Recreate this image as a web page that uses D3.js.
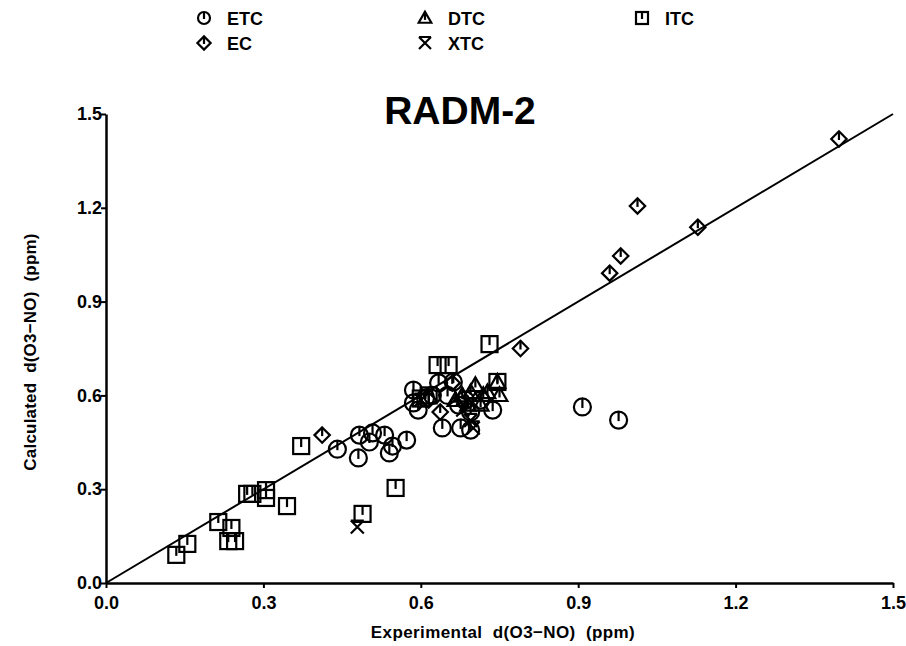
<!DOCTYPE html>
<html>
<head>
<meta charset="utf-8">
<script src="https://cdn.jsdelivr.net/npm/d3@7"></script>
<style>
  body { margin: 0; background: #fff; }
  text { font-family: "Liberation Sans", Arial, sans-serif; font-weight: bold; fill: #000; white-space: pre; }
</style>
</head>
<body>
<svg id="chart" width="906" height="646"></svg>
<script>
// valores (ppm)
const tickValues = [0.0, 0.3, 0.6, 0.9, 1.2, 1.5];

const etcPts = [
  [0.441,0.428],[0.483,0.473],[0.508,0.480],[0.502,0.451],[0.531,0.473],[0.546,0.438],
  [0.540,0.416],[0.573,0.457],[0.481,0.400],[0.908,0.563],[0.977,0.521],
  [0.586,0.617],[0.586,0.576],[0.595,0.553],[0.609,0.592],[0.622,0.600],[0.634,0.640],
  [0.662,0.643],[0.641,0.496],[0.676,0.496],[0.695,0.489],[0.737,0.553],[0.651,0.600],
  [0.685,0.585],[0.695,0.547],[0.672,0.569],[0.714,0.585]
];
const dtcPts = [
  [0.704,0.633],[0.727,0.610],[0.746,0.643],[0.750,0.601],[0.679,0.600],[0.690,0.570],
  [0.714,0.570],[0.666,0.585],[0.719,0.601],[0.695,0.610]
];
const itcPts = [
  [0.134,0.090],[0.155,0.125],[0.214,0.195],[0.239,0.176],[0.233,0.134],[0.246,0.134],
  [0.269,0.285],[0.279,0.285],[0.305,0.297],[0.305,0.272],[0.345,0.246],[0.372,0.438],
  [0.552,0.304],[0.489,0.221],[0.632,0.697],[0.653,0.697],[0.731,0.764],[0.746,0.643],
  [0.600,0.590],[0.615,0.600]
];
const ecPts = [
  [1.397,1.420],[1.013,1.206],[1.128,1.138],[0.981,1.046],[0.960,0.991],[0.790,0.750],
  [0.412,0.473],[0.637,0.547],[0.660,0.640],[0.615,0.585]
];
const xtcPts = [
  [0.479,0.179],[0.700,0.496],[0.695,0.520],[0.600,0.585],[0.680,0.553]
];

const legendItems = [
  {name: "ETC", sym: "circle"}, {name: "DTC", sym: "triangle"}, {name: "ITC", sym: "square"},
  {name: "EC", sym: "diamond"}, {name: "XTC", sym: "cross"}
];

const svg = d3.select("#chart");

const x = d3.scaleLinear().domain([0, 1.5]).range([106, 893]);
const y = d3.scaleLinear().domain([0, 1.5]).range([583, 114]);

// simbolos: todos llevan una rayita desde arriba hasta el centro
function drawSymbol(g, sym, s) {
  const sw = 2.2;
  if (sym === "circle") {
    g.append("circle").attr("r", s).attr("fill", "none").attr("stroke", "#000").attr("stroke-width", sw);
    g.append("line").attr("x1", 0).attr("y1", -s).attr("x2", 0).attr("y2", 1).attr("stroke", "#000").attr("stroke-width", sw);
  } else if (sym === "square") {
    g.append("rect").attr("x", -s).attr("y", -s).attr("width", 2 * s).attr("height", 2 * s)
      .attr("fill", "none").attr("stroke", "#000").attr("stroke-width", sw);
    g.append("line").attr("x1", 0).attr("y1", -s).attr("x2", 0).attr("y2", 1).attr("stroke", "#000").attr("stroke-width", sw);
  } else if (sym === "diamond") {
    const d = s * 1.1;
    g.append("path").attr("d", `M0,${-d}L${d},0L0,${d}L${-d},0Z`)
      .attr("fill", "none").attr("stroke", "#000").attr("stroke-width", sw);
    g.append("line").attr("x1", 0).attr("y1", -d).attr("x2", 0).attr("y2", 1).attr("stroke", "#000").attr("stroke-width", sw);
  } else if (sym === "triangle") {
    const h = s * 1.05;
    g.append("path").attr("d", `M0,${-h}L${h},${h * 0.75}L${-h},${h * 0.75}Z`)
      .attr("fill", "none").attr("stroke", "#000").attr("stroke-width", sw);
    g.append("line").attr("x1", 0).attr("y1", -h).attr("x2", 0).attr("y2", h * 0.3).attr("stroke", "#000").attr("stroke-width", sw);
  } else if (sym === "cross") {
    g.append("path").attr("d", `M${-s},${-s}L${s},${s}M${s},${-s}L${-s},${s}M${-s},${-s}L${s},${-s}`)
      .attr("fill", "none").attr("stroke", "#000").attr("stroke-width", sw);
  }
}

// ejes
const xAxis = svg.append("g").attr("transform", "translate(0,583)")
  .call(d3.axisBottom(x).tickValues(tickValues).tickFormat(d3.format(".1f")).tickSize(5).tickSizeOuter(0));
const yAxis = svg.append("g").attr("transform", "translate(106,0)")
  .call(d3.axisLeft(y).tickValues(tickValues).tickFormat(d3.format(".1f")).tickSize(5).tickSizeOuter(0));

[xAxis, yAxis].forEach(a => {
  a.attr("font-size", 18).attr("font-family", "'Liberation Sans', Arial, sans-serif");
  a.select(".domain").attr("stroke", "#000").attr("stroke-width", 2.5);
  a.selectAll(".tick line").attr("stroke", "#000").attr("stroke-width", 2);
  a.selectAll(".tick text").style("font-size", "18px").attr("fill", "#000");
});
xAxis.selectAll(".tick text").attr("dy", "1.0em");
yAxis.selectAll(".tick text").attr("x", -4);

// linea 1:1
svg.append("line")
  .attr("x1", x(0)).attr("y1", y(0)).attr("x2", x(1.5)).attr("y2", y(1.5))
  .attr("stroke", "#000").attr("stroke-width", 2);

// puntos
const series = [
  {pts: etcPts, sym: "circle", s: 8.5},
  {pts: itcPts, sym: "square", s: 8},
  {pts: ecPts, sym: "diamond", s: 7},
  {pts: dtcPts, sym: "triangle", s: 7.5},
  {pts: xtcPts, sym: "cross", s: 6.5}
];
series.forEach(ser => {
  svg.append("g").selectAll("g").data(ser.pts).join("g")
    .attr("transform", d => `translate(${x(d[0])},${y(d[1])})`)
    .each(function () { drawSymbol(d3.select(this), ser.sym, ser.s); });
});

// titulo y etiquetas
svg.append("text").attr("x", 460).attr("y", 124).attr("text-anchor", "middle")
  .style("font-size", "39px").text("RADM-2");

svg.append("text").attr("x", 503).attr("y", 638).attr("text-anchor", "middle")
  .style("font-size", "17px").style("letter-spacing", "0.4px")
  .text("Experimental  d(O3\u2212NO)  (ppm)");

svg.append("text").attr("transform", "translate(36,352) rotate(-90)").attr("text-anchor", "middle")
  .style("font-size", "17px").style("letter-spacing", "0.2px")
  .text("Calculated  d(O3\u2212NO)  (ppm)");

// leyenda
const legX = [204, 425, 642];
const legY = [18, 43];
const leg = svg.append("g").selectAll("g").data(legendItems).join("g")
  .attr("transform", (d, i) => `translate(${legX[i % 3]},${legY[Math.floor(i / 3)]})`);
leg.each(function (d) { drawSymbol(d3.select(this), d.sym, 6); });
leg.append("text").attr("x", 23).attr("y", 6.5).style("font-size", "18px").text(d => d.name);
</script>
</body>
</html>
